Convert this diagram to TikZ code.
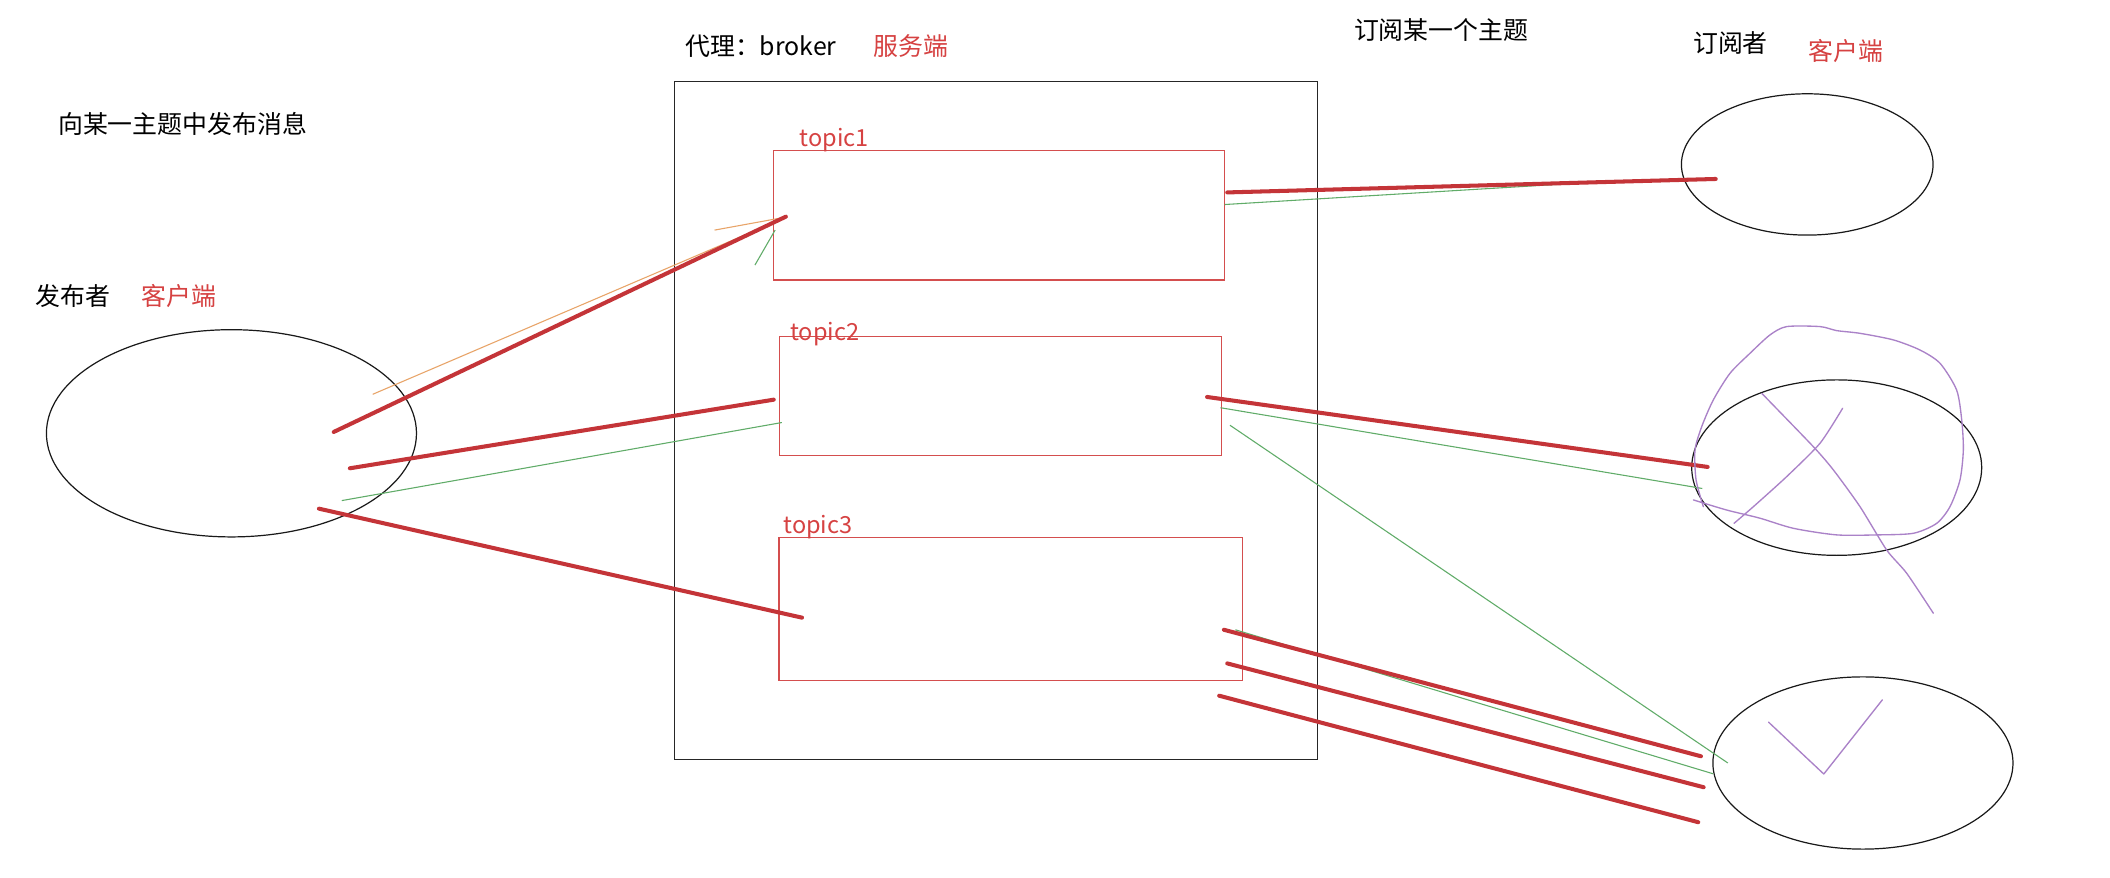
\documentclass[tikz,border=0pt]{standalone}
\usepackage{fontspec}
\newfontfamily\cjk{Noto Sans CJK SC}
\usetikzlibrary{shapes.geometric}
\definecolor{redline}{RGB}{196,52,56}
\definecolor{redtext}{RGB}{214,66,66}
\definecolor{redbox}{RGB}{212,78,78}
\definecolor{greenline}{RGB}{96,172,104}
\definecolor{orangeline}{RGB}{232,164,104}
\definecolor{purpleline}{RGB}{170,130,200}
\tikzset{
  txt/.style={font=\cjk\fontsize{18.5}{20}\selectfont, inner sep=0pt, anchor=west, text=black},
  rtxt/.style={txt, text=redtext},
  ttxt/.style={font=\cjk\fontsize{17.5}{19}\selectfont, inner sep=0pt, anchor=west, text=redtext},
  brokerbox/.style={draw=black!85, line width=0.9pt, inner sep=0pt},
  topicbox/.style={draw=redbox, line width=0.9pt, inner sep=0pt},
  client/.style={ellipse, draw=black!90, line width=0.9pt, inner sep=0pt},
  thickred/.style={draw=redline, line width=3pt, line cap=round},
  thingreen/.style={draw=greenline, line width=0.8pt},
  thinorange/.style={draw=orangeline, line width=0.8pt},
  scribble/.style={draw=purpleline, line width=1pt, line cap=round, line join=round}
}
\begin{document}
\begin{tikzpicture}[x=1pt,y=-1pt]
\useasboundingbox[fill=white] (0,0) rectangle (1568,652);

% texts
\node[txt] (tpubmsg) at (43,92) {向某一主题中发布消息};
\node[txt] (tpub) at (26,220) {发布者};
\node[rtxt] (tpubc) at (105,220) {客户端};
\node[txt] (tbroker) at (509,34) {代理：broker};
\node[rtxt] (tsrv) at (649,34) {服务端};
\node[txt] (tsubt) at (1006,22) {订阅某一个主题};
\node[txt] (tsub) at (1258,32) {订阅者};
\node[rtxt] (tsubc) at (1344,38) {客户端};

% broker and topics
\node[brokerbox, minimum width=478pt, minimum height=504pt] (broker) at (740,312.5) {};
\node[topicbox, minimum width=335pt, minimum height=96pt] (topic1) at (742.5,160) {};
\node[topicbox, minimum width=329pt, minimum height=88.5pt] (topic2) at (743.5,294.2) {};
\node[topicbox, minimum width=344.5pt, minimum height=106.7pt] (topic3) at (751.2,452.6) {};
\node[ttxt] (ltopic1) at (594,104) {topic1};
\node[ttxt] (ltopic2) at (587,248) {topic2};
\node[ttxt] (ltopic3) at (582,392) {topic3};

% clients
\node[client, minimum width=275pt, minimum height=154pt] (pub) at (172,322) {};
\node[client, minimum width=187pt, minimum height=105pt] (sub1) at (1343,122.2) {};
\node[client, minimum width=215.5pt, minimum height=130.4pt] (sub2) at (1364.9,347.5) {};
\node[client, minimum width=223pt, minimum height=128pt] (sub3) at (1384.4,567) {};

% end points of strokes
\coordinate (g1a) at (561,197);   \coordinate (g1b) at (576,171);
\coordinate (g2a) at (254,372);   \coordinate (g2b) at (581,314);
\coordinate (g3a) at (910,152);   \coordinate (g3b) at (1158,137);
\coordinate (g4a) at (907,303);   \coordinate (g4b) at (1265,363);
\coordinate (g5a) at (914,316);   \coordinate (g5b) at (1284,567);
\coordinate (g6a) at (918,468);   \coordinate (g6b) at (1273,575);
\coordinate (o1a) at (277,293);   \coordinate (o1b) at (583,162);
\coordinate (o2a) at (531,171);   \coordinate (o2b) at (583,161.5);
\coordinate (r1a) at (248,321);   \coordinate (r1b) at (584,161);
\coordinate (r2a) at (260,348);   \coordinate (r2b) at (575,297);
\coordinate (r3a) at (237,378);   \coordinate (r3b) at (596,459);
\coordinate (r4a) at (912,143);   \coordinate (r4b) at (1275,133);
\coordinate (r5a) at (897,295);   \coordinate (r5b) at (1269,347);
\coordinate (r6a) at (909.5,468); \coordinate (r6b) at (1264,562);
\coordinate (r7a) at (912,493);   \coordinate (r7b) at (1266,585);
\coordinate (r8a) at (906,517);   \coordinate (r8b) at (1262,611);

% green strokes
\draw[thingreen] (g1a) -- (g1b);
\draw[thingreen] (g2a) -- (g2b);
\draw[thingreen] (g3a) -- (g3b);
\draw[thingreen] (g4a) -- (g4b);
\draw[thingreen] (g5a) -- (g5b);
\draw[thingreen] (g6a) -- (g6b);
% orange strokes
\draw[thinorange] (o1a) -- (o1b);
\draw[thinorange] (o2a) -- (o2b);
% red strokes
\draw[thickred] (r1a) -- (r1b);
\draw[thickred] (r2a) -- (r2b);
\draw[thickred] (r3a) -- (r3b);
\draw[thickred] (r4a) -- (r4b);
\draw[thickred] (r5a) -- (r5b);
\draw[thickred] (r6a) -- (r6b);
\draw[thickred] (r7a) -- (r7b);
\draw[thickred] (r8a) -- (r8b);

% purple scribbles
\draw[scribble] plot[smooth, tension=0.45] coordinates {
  (1258.4,371.5) (1283.1,379) (1307.9,385.1) (1332.7,392.6) (1364.9,397.5)
  (1394.6,397.5) (1421.9,396.3) (1439.2,388.9) (1449.1,376.5) (1456.5,356.7)
  (1459.0,334.4) (1457.8,312.1) (1454.0,289.8) (1441.7,270) (1426.8,260.1)
  (1407.0,252.6) (1382.2,247.7) (1364.9,245.7) (1352.5,242.7) (1327.7,242.7)
  (1315.3,248.9) (1300.5,262.5) (1285.6,277.4) (1273.2,297.2) (1264.6,317.0)
  (1259.6,334.4) (1260.4,356.7) (1265.8,376.5)};
\draw[scribble] plot[smooth, tension=0.4] coordinates {
  (1309.2,292.3) (1347.5,331.9) (1362.4,349.2) (1382.2,376.5) (1402,408.7)
  (1416.9,426) (1436.7,455.7)};
\draw[scribble] plot[smooth, tension=0.4] coordinates {
  (1369.3,303.4) (1352.5,329.4) (1327.7,354.2) (1303,376.5) (1288.6,388.9)};
\draw[scribble] (1314.2,536.6) -- (1355.3,575.2) -- (1398.8,520.1);
\end{tikzpicture}
\end{document}
